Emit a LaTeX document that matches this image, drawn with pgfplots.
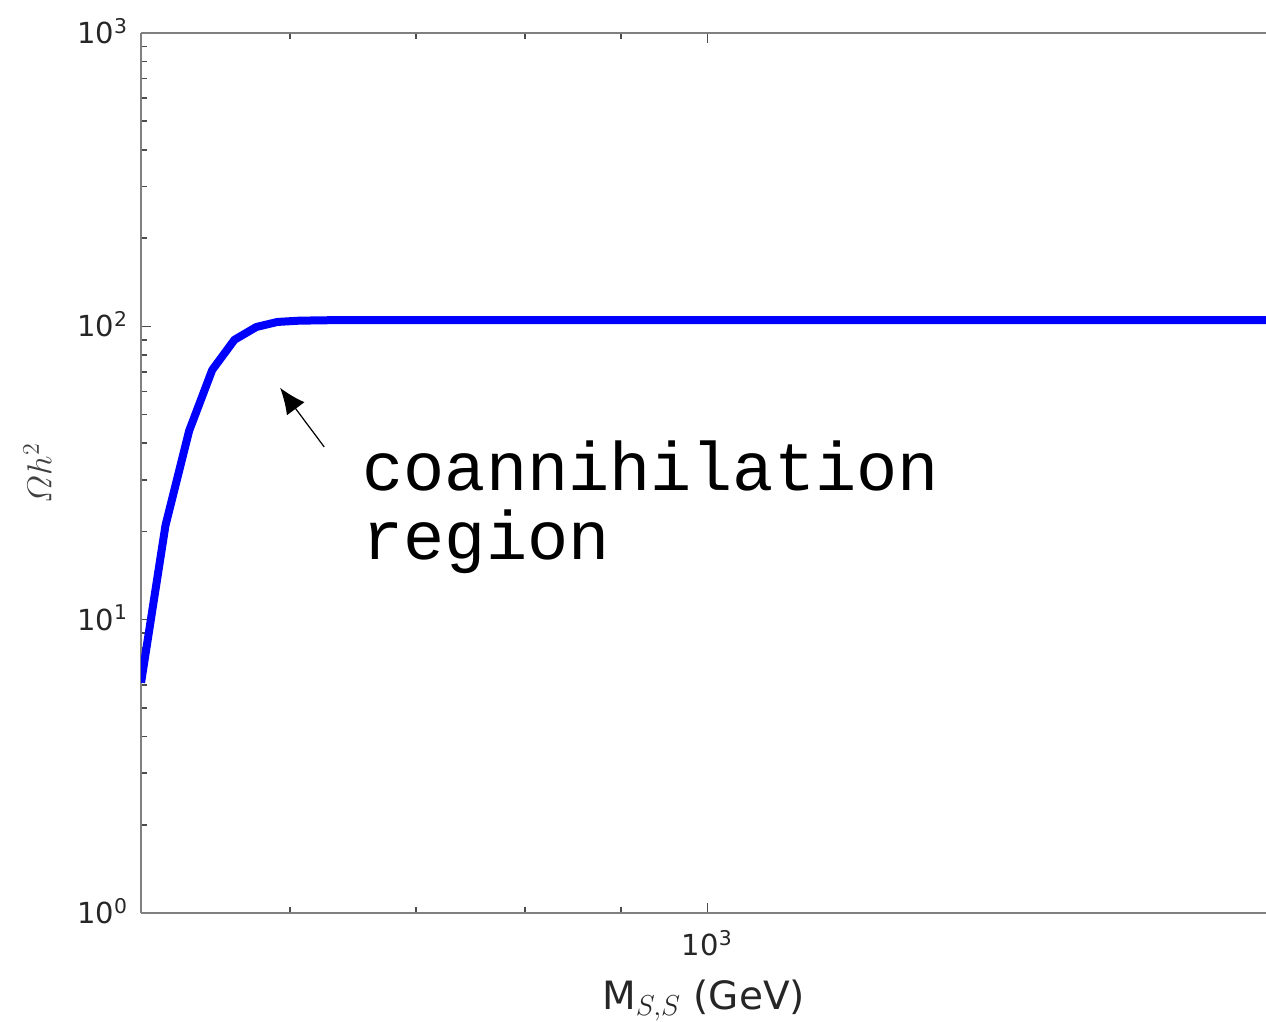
\documentclass[border=0pt]{standalone}
\usepackage{amsmath}
\usepackage{fontspec}
\setmainfont{DejaVu Sans}
\newfontfamily\monofont{Liberation Mono}
\usepackage{pgfplots}
\pgfplotsset{compat=1.18}
\usetikzlibrary{arrows.meta}

\pgfplotstableread{
M      omega
500.0  6.1
515.2  21.0
530.3  44.0
545.5  71.0
560.6  90.0
575.8  99.5
590.9  103.5
606.1  104.5
621.2  104.8
636.4  105.0
700.0  105.0
1000.0 105.0
1500.0 105.0
2000.0 105.0
}\relicdata

\begin{document}
\begin{tikzpicture}[font=\fontsize{14.5}{17}\selectfont]
\begin{axis}[
  scale only axis,
  width=562.5pt, height=440pt,
  xmode=log, ymode=log,
  xmin=500, xmax=1982,
  ymin=1, ymax=1000,
  axis x line*=box,
  axis y line*=left,
  axis line style={black!50, line width=1.1pt},
  tick style={black!70, line width=0.8pt},
  tick align=inside,
  major tick length=5pt,
  minor tick length=2.8pt,
  xtick={1000},
  xticklabels={10\textsuperscript{3}},
  minor xtick={600,700,800,900,2000},
  ytick={1,10,100,1000},
  yticklabels={10\textsuperscript{0},10\textsuperscript{1},10\textsuperscript{2},10\textsuperscript{3}},
  minor ytick={2,3,4,5,6,7,8,9,20,30,40,50,60,70,80,90,200,300,400,500,600,700,800,900},
  yticklabel style={anchor=base east, yshift=-5.3pt, xshift=-3pt, text=black!85},
  xticklabel style={anchor=north, yshift=-5pt, text=black!85},
  xlabel={M$_{S,S}$ (GeV)},
  xlabel style={text=black!85, font=\fontsize{19.5}{22}\selectfont, yshift=-5pt},
  ylabel={$\varOmega h^2$},
  ylabel style={text=black!75, font=\fontsize{18}{20}\selectfont, yshift=6pt},
  clip=true,
]
\addplot[blue, line width=4pt, line join=round] table[x=M, y=omega] {\relicdata};

\draw[black, line width=0.6pt, -{Latex[length=13pt, width=11pt]}]
  (axis cs:625.7,38.8) -- (axis cs:592.8,61.7);
\node[anchor=base west, inner sep=0pt, font=\monofont\fontsize{34.3}{35}\selectfont]
  at (axis cs:655.4,27.5) {coannihilation};
\node[anchor=base west, inner sep=0pt, font=\monofont\fontsize{34.3}{35}\selectfont]
  at (axis cs:655.4,15.98) {region};

\coordinate (sw) at (rel axis cs:0,0);
\coordinate (ne) at (rel axis cs:1,1);
\end{axis}
\pgfresetboundingbox
\path ([shift={(-70.5pt,-54pt)}]sw) rectangle ([shift={(0pt,16.5pt)}]ne);
\end{tikzpicture}
\end{document}
